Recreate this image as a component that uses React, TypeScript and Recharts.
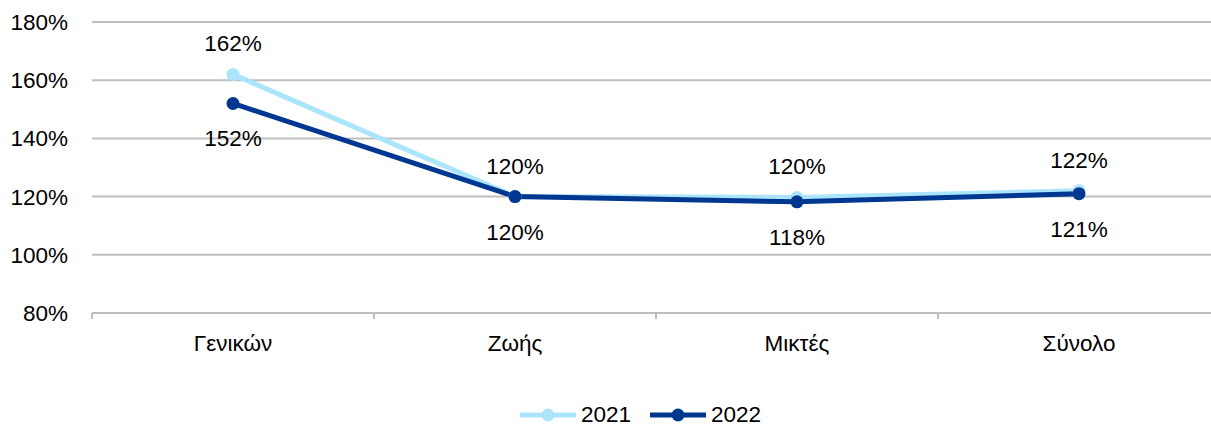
import React from 'react';
import { LineChart, Line, XAxis, YAxis, CartesianGrid, Legend, LabelList } from 'recharts';

const categories = ['Γενικών', 'Ζωής', 'Μικτές', 'Σύνολο'];
const values2021 = [162, 120, 119.7, 122];
const values2022 = [152, 120, 118.2, 121];
const yTicks = [80, 100, 120, 140, 160, 180];
const edgeTicks = [0, 1, 2, 3, 4];

const FONT = '"Liberation Sans", Arial, Helvetica, sans-serif';
const LIGHT = '#abe5fc';
const DARK = '#003790';
const GRID = '#bfbfbf';

const data = categories.map((name, i) => ({ name, idx: i, y2021: values2021[i], y2022: values2022[i] }));

const pct = (v: any) => `${Math.round(Number(v))}%`;

const NoLabel = () => <g />;

const renderLegend = (props: any) => {
  const items = props.payload || [];
  return (
    <div
      style={{
        display: 'flex',
        justifyContent: 'center',
        alignItems: 'center',
        height: 24,
        paddingLeft: 80,
        fontFamily: FONT,
        fontSize: 22.5,
        color: '#000',
      }}
    >
      {items.map((p: any) => (
        <div key={p.value} style={{ display: 'flex', alignItems: 'center', marginRight: 19 }}>
          <svg width={56} height={16}>
            <line x1={0} y1={8} x2={56} y2={8} stroke={p.color} strokeWidth={5} />
            <circle cx={28} cy={8} r={6.5} fill={p.color} />
          </svg>
          <span style={{ marginLeft: 5, lineHeight: '24px' }}>{p.value}</span>
        </div>
      ))}
    </div>
  );
};

// axis 0 = band edges (tick marks), axis 1 = category labels
export default function App() {
  return (
    <div style={{ position: 'absolute', left: 0, top: 0, width: 1211, height: 428, overflow: 'hidden', background: '#fff' }}>
      <LineChart width={1220} height={428} data={data} margin={{ top: 22, right: 0, bottom: 1, left: 0 }}>
        <CartesianGrid horizontal vertical={false} stroke={GRID} strokeWidth={2} xAxisId={1} />
        <XAxis
          xAxisId={0}
          type="number"
          dataKey="idx"
          domain={[0, 4]}
          ticks={edgeTicks}
          tick={NoLabel}
          tickSize={6}
          height={8}
          axisLine={{ stroke: GRID, strokeWidth: 2 }}
          tickLine={{ stroke: GRID, strokeWidth: 2 }}
          allowDataOverflow
        />
        <XAxis
          xAxisId={1}
          dataKey="name"
          padding={{ left: 141, right: 141 }}
          axisLine={false}
          tickLine={false}
          height={82}
          tickMargin={8}
          tick={{ fill: '#000', fontSize: 22.5, fontFamily: FONT }}
        />
        <YAxis
          domain={[80, 180]}
          ticks={yTicks}
          tickFormatter={(v) => `${v}%`}
          axisLine={false}
          tickLine={false}
          width={92}
          tickMargin={18}
          tick={{ fill: '#000', fontSize: 22.5, fontFamily: FONT }}
        />
        <Legend verticalAlign="bottom" content={renderLegend} />
        <Line
          xAxisId={1}
          name="2021"
          dataKey="y2021"
          stroke={LIGHT}
          strokeWidth={5}
          dot={{ r: 6.5, fill: LIGHT, stroke: LIGHT, strokeWidth: 0 }}
          activeDot={false}
          isAnimationActive={false}
        >
          <LabelList dataKey="y2021" position="top" offset={23} formatter={pct} fill="#000" fontSize={22.5} fontFamily={FONT} />
        </Line>
        <Line
          xAxisId={1}
          name="2022"
          dataKey="y2022"
          stroke={DARK}
          strokeWidth={5}
          dot={{ r: 6.5, fill: DARK, stroke: DARK, strokeWidth: 0 }}
          activeDot={false}
          isAnimationActive={false}
        >
          <LabelList dataKey="y2022" position="bottom" offset={27} formatter={pct} fill="#000" fontSize={22.5} fontFamily={FONT} />
        </Line>
      </LineChart>
    </div>
  );
}
